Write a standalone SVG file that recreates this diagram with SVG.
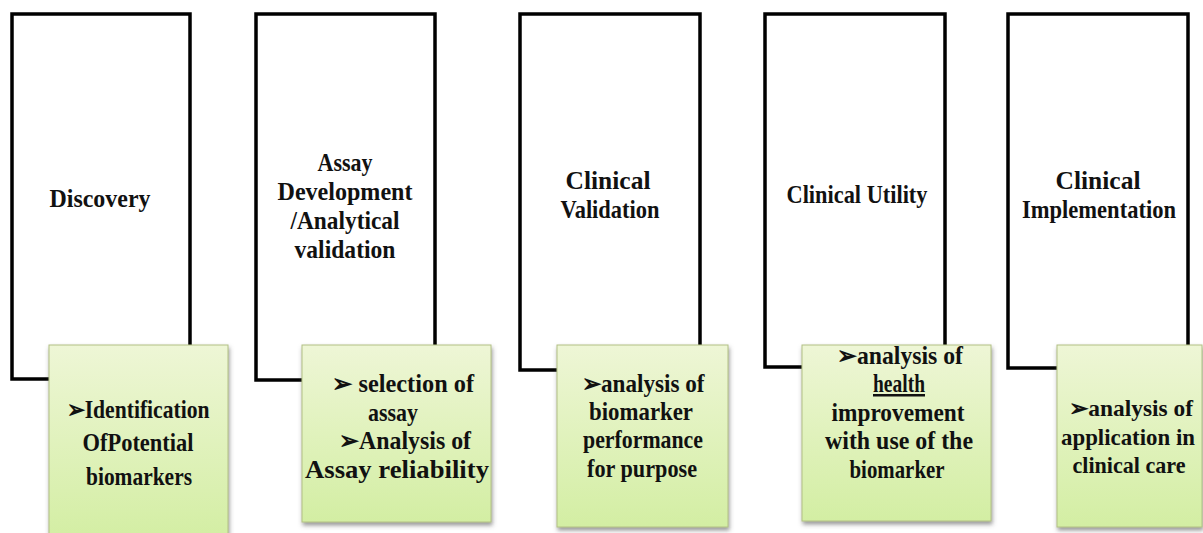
<svg xmlns="http://www.w3.org/2000/svg" width="1203" height="533" viewBox="0 0 1203 533">
<defs>
<linearGradient id="gr" x1="0" y1="0" x2="0" y2="1">
<stop offset="0" stop-color="#eef6d6"/>
<stop offset="1" stop-color="#d3eea3"/>
</linearGradient>
<filter id="sh" x="-10%" y="-10%" width="130%" height="130%">
<feDropShadow dx="1" dy="3" stdDeviation="2" flood-color="#555" flood-opacity="0.6"/>
</filter>
</defs>
<style>
.stage{fill:#fff;stroke:#000;stroke-width:3.5}
.det{fill:url(#gr);stroke:#b2c084;stroke-width:1;filter:url(#sh)}
</style>
<rect width="1203" height="533" fill="#fff"/>
<g id="connectors"/>
<g font-family="Liberation Serif, Times New Roman, Times, DejaVu Serif, serif" font-weight="bold" font-size="25" fill="#111" text-anchor="middle">
<g id="stage-discovery">
<rect class="stage" x="12" y="14" width="178" height="365"/>
<text x="100" y="207" textLength="101" lengthAdjust="spacingAndGlyphs">Discovery</text>
</g>
<g id="detail-discovery">
<rect class="det" x="49" y="345" width="179" height="195"/>
<text x="138" y="418" textLength="143" lengthAdjust="spacingAndGlyphs">➢Identification</text>
<text x="138" y="451" textLength="111" lengthAdjust="spacingAndGlyphs">OfPotential</text>
<text x="139" y="485" textLength="106" lengthAdjust="spacingAndGlyphs">biomarkers</text>
</g>
<g id="stage-assay">
<rect class="stage" x="256" y="14" width="179" height="366"/>
<text x="345" y="171" textLength="55" lengthAdjust="spacingAndGlyphs">Assay</text>
<text x="345" y="200" textLength="135" lengthAdjust="spacingAndGlyphs">Development</text>
<text x="345" y="229" textLength="109" lengthAdjust="spacingAndGlyphs">/Analytical</text>
<text x="345" y="258" textLength="101" lengthAdjust="spacingAndGlyphs">validation</text>
</g>
<g id="detail-assay">
<rect class="det" x="302" y="345" width="189" height="177"/>
<text x="403" y="392" textLength="142" lengthAdjust="spacingAndGlyphs">➢ selection of</text>
<text x="393" y="421" textLength="50" lengthAdjust="spacingAndGlyphs">assay</text>
<text x="405" y="449" textLength="132" lengthAdjust="spacingAndGlyphs">➢Analysis of</text>
<text x="397" y="478" textLength="184" lengthAdjust="spacingAndGlyphs">Assay reliability</text>
</g>
<g id="stage-clinical-validation">
<rect class="stage" x="520" y="14" width="180" height="356"/>
<text x="608" y="189" textLength="85" lengthAdjust="spacingAndGlyphs">Clinical</text>
<text x="610" y="218" textLength="99" lengthAdjust="spacingAndGlyphs">Validation</text>
</g>
<g id="detail-clinical-validation">
<rect class="det" x="557" y="345" width="171" height="182"/>
<text x="643" y="392" textLength="123" lengthAdjust="spacingAndGlyphs">➢analysis of</text>
<text x="641" y="420" textLength="104" lengthAdjust="spacingAndGlyphs">biomarker</text>
<text x="643" y="448" textLength="120" lengthAdjust="spacingAndGlyphs">performance</text>
<text x="642" y="477" textLength="110" lengthAdjust="spacingAndGlyphs">for purpose</text>
</g>
<g id="stage-clinical-utility">
<rect class="stage" x="765" y="14" width="180" height="353"/>
<text x="857" y="203" textLength="141" lengthAdjust="spacingAndGlyphs">Clinical Utility</text>
</g>
<g id="detail-clinical-utility">
<rect class="det" x="802" y="345" width="189" height="176"/>
<text x="900" y="364" textLength="126" lengthAdjust="spacingAndGlyphs">➢analysis of</text>
<text x="899" y="392" textLength="52" lengthAdjust="spacingAndGlyphs" text-decoration="underline">health</text>
<text x="898" y="421" textLength="133" lengthAdjust="spacingAndGlyphs">improvement</text>
<text x="899" y="449" textLength="148" lengthAdjust="spacingAndGlyphs">with use of the</text>
<text x="897" y="478" textLength="95" lengthAdjust="spacingAndGlyphs">biomarker</text>
</g>
<g id="stage-clinical-implementation">
<rect class="stage" x="1008" y="14" width="180" height="354"/>
<text x="1098" y="189" textLength="85" lengthAdjust="spacingAndGlyphs">Clinical</text>
<text x="1099" y="218" textLength="154" lengthAdjust="spacingAndGlyphs">Implementation</text>
</g>
<g id="detail-clinical-implementation">
<rect class="det" x="1057" y="345" width="145" height="182"/>
<text x="1131" y="416" font-size="23" textLength="124" lengthAdjust="spacingAndGlyphs">➢analysis of</text>
<text x="1128" y="445" font-size="23" textLength="134" lengthAdjust="spacingAndGlyphs">application in</text>
<text x="1129" y="473" font-size="23" textLength="113" lengthAdjust="spacingAndGlyphs">clinical care</text>
</g>
</g>
</svg>
